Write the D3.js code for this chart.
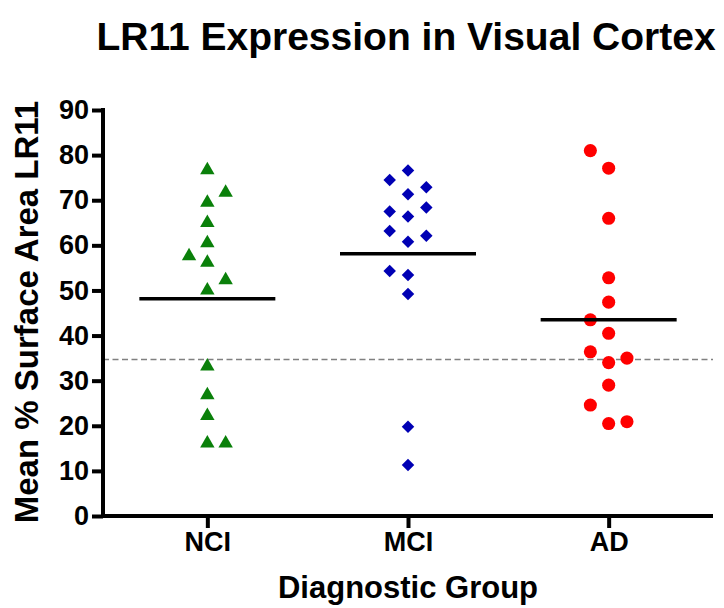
<!DOCTYPE html>
<html>
<head>
<meta charset="utf-8">
<script src="https://cdn.jsdelivr.net/npm/d3@7"></script>
<style>
  body { margin: 0; background: #fff; }
  text { font-family: "Liberation Sans", Arial, sans-serif; font-weight: bold; fill: #000; }
</style>
</head>
<body>
<div id="chart"></div>
<script>
var width = 724, height = 608;

// groups and values
var groups = ['NCI', 'MCI', 'AD'];
var yTicks = [0, 10, 20, 30, 40, 50, 60, 70, 80, 90];

var nciValues = [76.7, 71.7, 69.5, 65.0, 60.5, 57.6, 56.2, 52.3, 50.0, 33.2, 26.8, 22.2, 16.1, 16.1];
var nciCols   = [0, 1, 0, 0, 0, -1, 0, 1, 0, 0, 0, 0, 0, 1];

var mciValues = [76.6, 74.5, 72.9, 71.3, 68.4, 67.5, 66.4, 63.2, 62.1, 60.8, 54.3, 53.4, 49.2, 19.8, 11.3];
var mciCols   = [0, -1, 1, 0, 1, -1, 0, -1, 1, 0, -1, 0, 0, 0, 0];

var adValues = [81.0, 77.1, 66.0, 52.8, 47.4, 43.5, 40.5, 36.4, 35.0, 34.0, 29.0, 24.6, 20.5, 20.9];
var adCols   = [-1, 0, 0, 0, 0, -1, 0, -1, 1, 0, 0, -1, 0, 1];

var cutoff = 34.7;

var series = [
    { group: 'NCI', values: nciValues, cols: nciCols, shape: d3.symbolTriangle, size: 90, color: '#0a800a' },
    { group: 'MCI', values: mciValues, cols: mciCols, shape: d3.symbolSquare, size: 78, color: '#0000b4', rotate: 45 },
    { group: 'AD', values: adValues, cols: adCols, shape: d3.symbolCircle, size: 135, color: '#ff0000' }
];

var plotLeft = 103, plotRight = 713, plotTop = 110, plotBottom = 516;

var x = d3.scalePoint().domain(groups).range([plotLeft, plotRight]).padding(0.52);
var y = d3.scaleLinear().domain([0, 90]).range([plotBottom, plotTop]);
var jitter = d3.scaleLinear().domain([-1, 1]).range([-18.3, 18.3]);

var svg = d3.select('#chart').append('svg')
    .attr('width', width)
    .attr('height', height);

// title
svg.append('text')
    .attr('x', 406)
    .attr('y', 50)
    .attr('text-anchor', 'middle')
    .style('font-size', '39px')
    .text('LR11 Expression in Visual Cortex');

// dashed cutoff line
svg.append('line')
    .attr('x1', plotLeft).attr('x2', plotRight)
    .attr('y1', y(cutoff)).attr('y2', y(cutoff))
    .attr('stroke', '#808080')
    .attr('stroke-width', 1.6)
    .attr('stroke-dasharray', '6,3.5');

// points
series.forEach(function (s) {
    svg.append('g').selectAll('path')
        .data(s.values)
        .join('path')
        .attr('d', d3.symbol().type(s.shape).size(s.size))
        .attr('fill', s.color)
        .attr('transform', function (d, i) {
            var t = 'translate(' + (x(s.group) + jitter(s.cols[i])) + ',' + y(d) + ')';
            if (s.rotate) t += ' rotate(' + s.rotate + ')';
            return t;
        });

    // mean line
    var m = d3.mean(s.values);
    svg.append('line')
        .attr('x1', x(s.group) - 68).attr('x2', x(s.group) + 68)
        .attr('y1', y(m)).attr('y2', y(m))
        .attr('stroke', '#000')
        .attr('stroke-width', 3.5);
});

// y axis
var yAxis = svg.append('g')
    .attr('transform', 'translate(' + plotLeft + ',0)')
    .call(d3.axisLeft(y).tickValues(yTicks).tickSize(11).tickSizeOuter(0).tickPadding(3));

// x axis
var xAxis = svg.append('g')
    .attr('transform', 'translate(0,' + plotBottom + ')')
    .call(d3.axisBottom(x).tickSize(12).tickSizeOuter(0).tickPadding(4));

[yAxis, xAxis].forEach(function (a) {
    a.select('.domain').attr('stroke-width', 4);
    a.selectAll('.tick line').attr('stroke-width', 4);
    a.selectAll('.tick text')
        .style('font-family', '"Liberation Sans", Arial, sans-serif')
        .style('font-weight', 'bold')
        .style('font-size', '27px')
        .attr('fill', '#000');
});
// extend the domains so they meet at the corner
xAxis.select('.domain').attr('d', 'M' + (plotLeft - 2) + ',0H' + plotRight);
yAxis.select('.domain').attr('d', 'M0,' + (y(0) + 2) + 'V' + (y(90) - 2));

// axis titles
svg.append('text')
    .attr('x', 408)
    .attr('y', 598)
    .attr('text-anchor', 'middle')
    .style('font-size', '31px')
    .text('Diagnostic Group');

svg.append('text')
    .attr('transform', 'translate(38,' + 312 + ') rotate(-90)')
    .attr('text-anchor', 'middle')
    .style('font-size', '33px')
    .text('Mean % Surface Area LR11');
</script>
</body>
</html>
